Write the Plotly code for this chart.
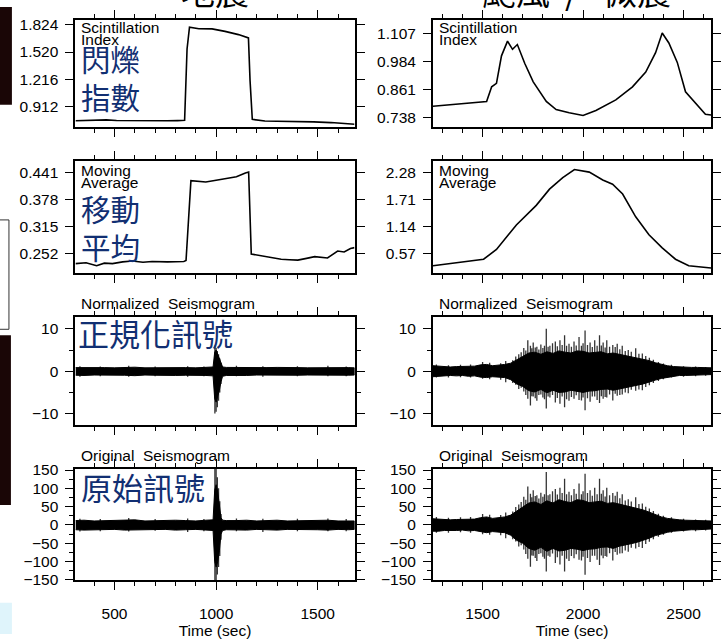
import plotly.graph_objects as go

W, H = 721, 642

# ---------------- data ----------------
# Scintillation index, earthquake window
t_eq_si = [308, 360, 410, 460, 510, 560, 610, 660, 710, 760, 810, 845, 857, 869, 915, 980,
           1044, 1110, 1159, 1167, 1178, 1240, 1300, 1402, 1480, 1565, 1620, 1661, 1681]
v_eq_si = [0.750, 0.755, 0.758, 0.760, 0.754, 0.752, 0.748, 0.750, 0.752, 0.750, 0.752, 0.755,
           1.554, 1.798, 1.781, 1.779, 1.751, 1.715, 1.678, 1.200, 0.766, 0.748, 0.745, 0.743,
           0.738, 0.730, 0.722, 0.712, 0.712]

# Scintillation index, typhoon / microseism window
t_ty_si = [1253, 1300, 1371, 1440, 1520, 1545, 1569, 1594, 1624, 1649, 1673, 1710, 1752, 1817,
           1866, 1931, 2000, 2064, 2163, 2246, 2312, 2361, 2394, 2427, 2469, 2510, 2559, 2609, 2637]
v_ty_si = [0.786, 0.790, 0.797, 0.803, 0.807, 0.872, 0.887, 1.009, 1.074, 1.038, 1.059, 0.975,
           0.894, 0.807, 0.771, 0.757, 0.745, 0.767, 0.814, 0.872, 0.937, 1.023, 1.110, 1.066,
           0.980, 0.850, 0.800, 0.750, 0.747]

# Moving average, earthquake window
t_eq_ma = [308, 360, 412, 450, 490, 540, 588, 640, 685, 760, 841, 852, 876, 910, 949, 1000,
           1046, 1100, 1144, 1160, 1173, 1200, 1241, 1280, 1320, 1360, 1402, 1445, 1485, 1548,
           1598, 1630, 1661, 1681]
v_eq_ma = [0.229, 0.231, 0.224, 0.230, 0.229, 0.233, 0.235, 0.232, 0.234, 0.233, 0.234, 0.236,
           0.421, 0.419, 0.418, 0.422, 0.426, 0.430, 0.439, 0.441, 0.251, 0.249, 0.245, 0.243,
           0.239, 0.238, 0.237, 0.241, 0.245, 0.242, 0.258, 0.256, 0.264, 0.266]

# Moving average, typhoon / microseism window
t_ty_ma = [1253, 1505, 1569, 1668, 1767, 1833, 1899, 1957, 2031, 2098, 2147, 2197, 2262, 2328,
           2394, 2460, 2526, 2637]
v_ty_ma = [0.318, 0.455, 0.660, 1.173, 1.583, 1.923, 2.163, 2.333, 2.280, 2.116, 2.026, 1.821,
           1.343, 0.968, 0.693, 0.455, 0.318, 0.271]

# Seismogram envelopes, earthquake window (normalized / original)
t_eq_env = [308, 350, 400, 450, 500, 550, 600, 650, 700, 750, 800, 850, 900, 950, 985, 993,
            1000, 1008, 1016, 1024, 1032, 1050, 1100, 1150, 1200, 1250, 1300, 1350, 1400, 1450,
            1500, 1550, 1600, 1650, 1681]
eq_norm_hi = [0.85, 0.9, 0.8, 0.85, 0.8, 0.9, 0.95, 0.8, 0.85, 0.8, 0.9, 0.85, 0.8, 0.9, 1.0,
              4.5, 5.0, 4.0, 3.0, 1.8, 1.0, 0.9, 0.85, 0.9, 0.8, 0.85, 0.9, 0.8, 0.85, 0.8,
              0.85, 0.9, 0.8, 0.85, 0.8]
eq_norm_lo = [-0.95, -1.0, -0.9, -1.0, -0.9, -0.95, -1.05, -0.9, -0.95, -0.9, -1.0, -0.95,
              -0.9, -1.0, -1.1, -6.5, -7.3, -6.0, -4.5, -2.5, -1.2, -1.0, -0.95, -1.0, -0.9,
              -0.95, -1.0, -0.9, -0.95, -0.9, -0.95, -1.0, -0.9, -0.95, -0.9]
eq_orig_hi = [12, 13, 11, 12, 11, 13, 14, 11, 12, 11, 13, 12, 11, 13, 14, 95, 110, 90, 50,
              20, 13, 12, 12, 13, 11, 12, 13, 11, 12, 11, 12, 13, 11, 12, 11]
eq_orig_lo = [-13, -14, -12, -13, -12, -14, -15, -12, -13, -12, -14, -13, -12, -14, -15, -100,
              -115, -100, -70, -25, -15, -13, -13, -14, -12, -13, -14, -12, -13, -12, -13, -14,
              -12, -13, -12]

# individual peaks, earthquake window
eq_spike_t = [330, 430, 570, 700, 860, 940, 994, 1000, 1006, 1012, 1018, 1024, 1100, 1230,
              1400, 1550, 1640]
eq_norm_spike_hi = [1.2, 1.1, 1.3, 1.1, 1.2, 1.1, 6.1, 5.5, 4.8, 4.0, 3.0, 2.0, 1.3, 1.2, 1.2,
                    1.3, 1.1]
eq_norm_spike_lo = [-1.3, -1.2, -1.3, -1.2, -1.3, -1.2, -10.0, -9.6, -8.5, -7.0, -5.0, -3.0,
                    -1.2, -1.3, -1.2, -1.2, -1.2]
eq_orig_spike_hi = [17, 16, 19, 16, 18, 16, 160, 155, 130, 100, 65, 30, 18, 17, 17, 18, 16]
eq_orig_spike_lo = [-18, -17, -18, -16, -19, -17, -160, -160, -135, -115, -85, -40, -17, -19,
                    -17, -17, -17]

# Seismogram envelopes, typhoon / microseism window
t_ty_env = [1253, 1280, 1310, 1340, 1370, 1400, 1430, 1460, 1490, 1520, 1550, 1580, 1610, 1640,
            1670, 1700, 1730, 1760, 1790, 1820, 1850, 1880, 1910, 1940, 1970, 2000, 2030, 2060,
            2090, 2120, 2150, 2180, 2210, 2240, 2270, 2300, 2330, 2360, 2390, 2420, 2450, 2480,
            2510, 2540, 2570, 2600, 2637]
ty_norm_hi = [1.3, 1.2, 1.0, 1.0, 1.1, 1.1, 1.2, 1.2, 1.5, 1.6, 1.3, 1.4, 1.6, 1.9, 2.8, 3.5,
              4.3, 4.5, 4.0, 4.6, 4.2, 4.8, 4.5, 4.3, 4.8, 4.7, 4.3, 4.5, 4.6, 4.1, 4.3, 4.0,
              3.7, 3.5, 3.2, 2.9, 2.5, 2.0, 1.6, 1.3, 1.1, 1.0, 0.9, 0.9, 0.9, 0.8, 0.8]
ty_norm_lo = [-1.3, -1.3, -1.1, -1.0, -1.1, -1.0, -1.2, -1.1, -1.4, -1.5, -1.3, -1.4, -1.5,
              -2.0, -3.0, -3.6, -4.6, -4.9, -4.3, -5.1, -4.5, -5.0, -4.9, -4.5, -4.7, -5.0,
              -4.7, -4.6, -4.3, -4.2, -4.5, -4.1, -3.8, -3.6, -3.3, -3.0, -2.6, -2.1, -1.7,
              -1.4, -1.2, -1.0, -1.0, -0.9, -0.9, -0.9, -0.8]
ty_orig_hi = [17, 16, 14, 14, 15, 15, 16, 16, 20, 22, 18, 19, 22, 27, 39, 49, 60, 63, 56, 66,
              60, 69, 64, 61, 69, 67, 61, 64, 65, 59, 61, 57, 53, 50, 46, 41, 35, 28, 22, 18,
              15, 14, 13, 13, 13, 11, 11]
ty_orig_lo = [-17, -17, -15, -14, -15, -14, -16, -15, -19, -21, -18, -19, -21, -28, -42, -50,
              -64, -69, -61, -72, -64, -71, -69, -64, -66, -70, -66, -65, -61, -60, -64, -58,
              -54, -51, -47, -42, -36, -29, -24, -20, -17, -14, -14, -13, -13, -13, -11]

# individual peaks, typhoon / microseism window
ty_spike_t = [1270, 1330, 1390, 1440, 1500, 1535, 1590, 1615, 1650, 1665, 1680, 1692, 1705,
              1715, 1725, 1738, 1745, 1752, 1762, 1770, 1780, 1790, 1800, 1808, 1817, 1826,
              1835, 1848, 1862, 1872, 1885, 1896, 1908, 1918, 1930, 1942, 1955, 1966, 1980,
              1992, 2000, 2010, 2022, 2035, 2046, 2058, 2070, 2082, 2091, 2100, 2110, 2118,
              2132, 2148, 2160, 2170, 2183, 2195, 2210, 2225, 2240, 2262, 2278, 2295, 2312,
              2330, 2350, 2375, 2400, 2440, 2500, 2560, 2610]
ty_norm_spike_hi = [1.6, 1.4, 1.5, 1.6, 2.2, 2.0, 1.9, 2.4, 2.6, 3.5, 4.0, 4.5, 5.5, 4.9, 7.3,
                    6.0, 5.4, 6.8, 5.6, 5.8, 5.1, 6.3, 5.5, 6.0, 10.0, 5.8, 6.0, 6.6, 7.0, 5.9,
                    7.3, 6.2, 8.5, 6.0, 6.5, 5.8, 7.0, 6.1, 8.1, 6.0, 6.6, 9.6, 6.2, 6.8, 5.7,
                    7.3, 6.0, 8.5, 6.1, 6.8, 5.6, 7.3, 5.8, 6.2, 5.7, 6.5, 5.2, 6.0, 4.8, 5.0,
                    4.6, 5.4, 4.1, 4.2, 3.6, 3.2, 2.7, 2.2, 1.8, 1.5, 1.2, 1.1, 1.0]
ty_norm_spike_lo = [-1.5, -1.5, -1.4, -1.5, -1.8, -1.9, -2.0, -2.6, -2.8, -3.2, -4.2, -3.9,
                    -4.8, -5.6, -6.5, -8.1, -5.9, -6.0, -6.4, -7.0, -5.6, -5.5, -6.2, -6.6,
                    -8.8, -6.0, -6.2, -5.6, -7.4, -6.3, -7.7, -6.0, -8.5, -6.6, -7.0, -6.1,
                    -6.5, -5.7, -6.8, -6.9, -6.2, -9.2, -6.4, -7.2, -6.0, -6.0, -6.8, -7.5,
                    -5.9, -6.5, -6.1, -6.2, -5.5, -6.9, -5.3, -5.8, -5.6, -5.5, -5.0, -5.2,
                    -4.4, -4.6, -4.3, -4.5, -3.7, -3.3, -2.8, -2.3, -1.9, -1.5, -1.3, -1.2,
                    -1.1]
ty_orig_spike_hi = [22, 20, 21, 22, 30, 28, 27, 34, 37, 49, 56, 63, 77, 69, 105, 85, 76, 95,
                    79, 81, 72, 88, 77, 84, 145, 81, 84, 92, 98, 83, 102, 87, 126, 84, 91, 81,
                    98, 85, 113, 84, 92, 140, 87, 95, 80, 102, 84, 126, 85, 95, 78, 102, 81,
                    87, 80, 91, 73, 84, 67, 70, 64, 76, 57, 59, 50, 45, 38, 31, 25, 21, 17,
                    15, 14]
ty_orig_spike_lo = [-21, -21, -20, -21, -25, -27, -28, -36, -39, -45, -59, -55, -67, -79, -92,
                    -114, -83, -84, -90, -98, -79, -77, -87, -92, -127, -84, -87, -78, -104,
                    -88, -108, -84, -127, -92, -98, -85, -91, -80, -95, -97, -87, -136, -90,
                    -101, -84, -84, -95, -109, -83, -91, -85, -87, -77, -97, -74, -81, -78,
                    -77, -70, -73, -62, -64, -60, -63, -52, -46, -39, -32, -27, -21, -18, -17,
                    -15]

# axis ticks
x_ticks = [[500, 1000, 1500], [1500, 2000, 2500]]
y_ticks = [
    [0.912, 1.216, 1.520, 1.824],
    [0.738, 0.861, 0.984, 1.107],
    [0.252, 0.315, 0.378, 0.441],
    [0.57, 1.14, 1.71, 2.28],
    [-10, 0, 10],
    [-10, 0, 10],
    [-150, -100, -50, 0, 50, 100, 150],
    [-150, -100, -50, 0, 50, 100, 150],
]
y_tick_text = [
    ["0.912", "1.216", "1.520", "1.824"],
    ["0.738", "0.861", "0.984", "1.107"],
    ["0.252", "0.315", "0.378", "0.441"],
    ["0.57", "1.14", "1.71", "2.28"],
    ["\u221210", "0", "10"],
    ["\u221210", "0", "10"],
    ["\u2212150", "\u2212100", "\u221250", "0", "50", "100", "150"],
    ["\u2212150", "\u2212100", "\u221250", "0", "50", "100", "150"],
]
y_minor_dtick = [None, None, None, None, 5, 5, 25, 25]

# ---------------- layout geometry (pixels) ----------------
COL_X = [(76, 357), (436, 716)]
ROW_Y = [(13, 123), (158, 272), (317, 428), (473, 587)]
X_RANGE = [[308, 1681], [1253, 2637]]
Y_RANGE = [[0.679, 1.882], [0.6935, 1.169], [0.208, 0.466], [0.174, 2.506],
           [-12.7, 12.9], [-12.7, 12.9], [-151, 153], [-151, 153]]


def fx(px):
    return px / W


def fy(py):
    return 1 - py / H


FONT = "Liberation Sans, Arial, sans-serif"
CJK = "Noto Sans CJK TC, Noto Sans CJK SC, sans-serif"
NAVY = "#112f72"

fig = go.Figure()


def axis_names(k):
    s = "" if k == 0 else str(k + 1)
    return "x" + s, "y" + s, "xaxis" + s, "yaxis" + s


def add_line(k, t, v):
    xa, ya, _, _ = axis_names(k)
    fig.add_trace(go.Scatter(x=t, y=v, mode="lines", xaxis=xa, yaxis=ya,
                             line=dict(color="black", width=1.6), showlegend=False,
                             hoverinfo="skip"))


def add_seis(k, t, hi, lo, st, shi, slo):
    xa, ya, _, _ = axis_names(k)
    fig.add_trace(go.Scatter(x=list(t) + list(t)[::-1], y=list(hi) + list(lo)[::-1],
                             mode="lines", fill="toself", fillcolor="black",
                             line=dict(color="black", width=1), xaxis=xa, yaxis=ya,
                             showlegend=False, hoverinfo="skip"))
    sx, sy = [], []
    for ti, a, b in zip(st, shi, slo):
        sx += [ti, ti, None]
        sy += [a, b, None]
    fig.add_trace(go.Scatter(x=sx, y=sy, mode="lines", xaxis=xa, yaxis=ya,
                             line=dict(color="rgba(0,0,0,0.8)", width=1.3),
                             showlegend=False, hoverinfo="skip"))


add_line(0, t_eq_si, v_eq_si)
add_line(1, t_ty_si, v_ty_si)
add_line(2, t_eq_ma, v_eq_ma)
add_line(3, t_ty_ma, v_ty_ma)
add_seis(4, t_eq_env, eq_norm_hi, eq_norm_lo, eq_spike_t, eq_norm_spike_hi, eq_norm_spike_lo)
add_seis(5, t_ty_env, ty_norm_hi, ty_norm_lo, ty_spike_t, ty_norm_spike_hi, ty_norm_spike_lo)
add_seis(6, t_eq_env, eq_orig_hi, eq_orig_lo, eq_spike_t, eq_orig_spike_hi, eq_orig_spike_lo)
add_seis(7, t_ty_env, ty_orig_hi, ty_orig_lo, ty_spike_t, ty_orig_spike_hi, ty_orig_spike_lo)

layout = dict(width=W, height=H, margin=dict(l=0, r=0, t=0, b=0),
              paper_bgcolor="white", plot_bgcolor="white", showlegend=False,
              font=dict(family=FONT, size=15.5, color="black"))

for k in range(8):
    row, col = divmod(k, 2)
    xa, ya, xkey, ykey = axis_names(k)
    x0, x1 = COL_X[col]
    y0, y1 = ROW_Y[row]
    bottom = row == 3
    layout[xkey] = dict(
        domain=[fx(x0), fx(x1)], range=X_RANGE[col], anchor=ya,
        showline=True, linecolor="black", linewidth=2, mirror="allticks",
        ticks="outside", ticklen=8, tickwidth=1.4, tickcolor="black",
        tickmode="array", tickvals=x_ticks[col],
        ticktext=[str(v) for v in x_ticks[col]],
        showticklabels=bottom, ticklabelstandoff=10,
        showgrid=False, zeroline=False, fixedrange=True,
        minor=dict(ticks="outside", ticklen=4, tickwidth=1.2, tickcolor="black",
                   dtick=100, tick0=0, showgrid=False),
        title=dict(text="Time (sec)" if bottom else "", font=dict(size=15.5), standoff=4),
    )
    ydict = dict(
        domain=[fy(y1), fy(y0)], range=Y_RANGE[k], anchor=xa,
        showline=True, linecolor="black", linewidth=2, mirror="allticks",
        ticks="outside", ticklen=8, tickwidth=1.4, tickcolor="black",
        tickmode="array", tickvals=y_ticks[k], ticktext=y_tick_text[k],
        ticklabelstandoff=4, showgrid=False, zeroline=False, fixedrange=True,
    )
    if y_minor_dtick[k]:
        ydict["minor"] = dict(ticks="outside", ticklen=4, tickwidth=1.2, tickcolor="black",
                              dtick=y_minor_dtick[k], tick0=0, showgrid=False)
    layout[ykey] = ydict

annotations = []


def note(text, x, y, size=15.5, color="black", family=FONT, xanchor="left", yanchor="middle"):
    annotations.append(dict(text=text, x=fx(x), y=fy(y), xref="paper", yref="paper",
                            showarrow=False, xanchor=xanchor, yanchor=yanchor,
                            font=dict(size=size, color=color, family=family)))


# panel captions
for cx in (80, 440):
    note("Scintillation", cx, 21)
    note("Index", cx, 33)
    note("Moving", cx, 167)
    note("Average", cx, 180)
note("Normalized&nbsp; Seismogram", 80, 304)
note("Normalized&nbsp; Seismogram", 440, 304)
note("Original&nbsp; Seismogram", 80, 459)
note("Original&nbsp; Seismogram", 440, 459)

# Chinese labels
note("閃爍<br>指數", 80, 72, size=29.5, color=NAVY, family=CJK)
note("移動<br>平均", 80, 225, size=29.5, color=NAVY, family=CJK)
note("正規化訊號", 77, 333, size=31, color=NAVY, family=CJK)
note("原始訊號", 80, 491, size=31, color=NAVY, family=CJK)

# column headings, cut by the top edge
note("地震", 216, 10, size=34, family=CJK, xanchor="center", yanchor="bottom")
note("颱風", 520, 10, size=34, family=CJK, xanchor="center", yanchor="bottom")
note("/", 575, 10, size=34, family=CJK, xanchor="center", yanchor="bottom")
note("微震", 641, 10, size=34, family=CJK, xanchor="center", yanchor="bottom")

layout["annotations"] = annotations

# slide elements along the left edge
layout["shapes"] = [
    dict(type="rect", xref="paper", yref="paper", x0=0, x1=fx(12), y0=fy(100), y1=1,
         fillcolor="#1a0606", line=dict(width=0), layer="below"),
    dict(type="rect", xref="paper", yref="paper", x0=-0.01, x1=fx(9), y0=fy(330), y1=fy(218),
         fillcolor="white", line=dict(color="#333", width=1), layer="below"),
    dict(type="rect", xref="paper", yref="paper", x0=0, x1=fx(11), y0=fy(510), y1=fy(336),
         fillcolor="#1a0606", line=dict(width=0), layer="below"),
    dict(type="rect", xref="paper", yref="paper", x0=0, x1=fx(12), y0=0, y1=fy(610),
         fillcolor="#dff4fb", line=dict(width=0), layer="below"),
]

fig.update_layout(**layout)
fig.write_html("out.html")
